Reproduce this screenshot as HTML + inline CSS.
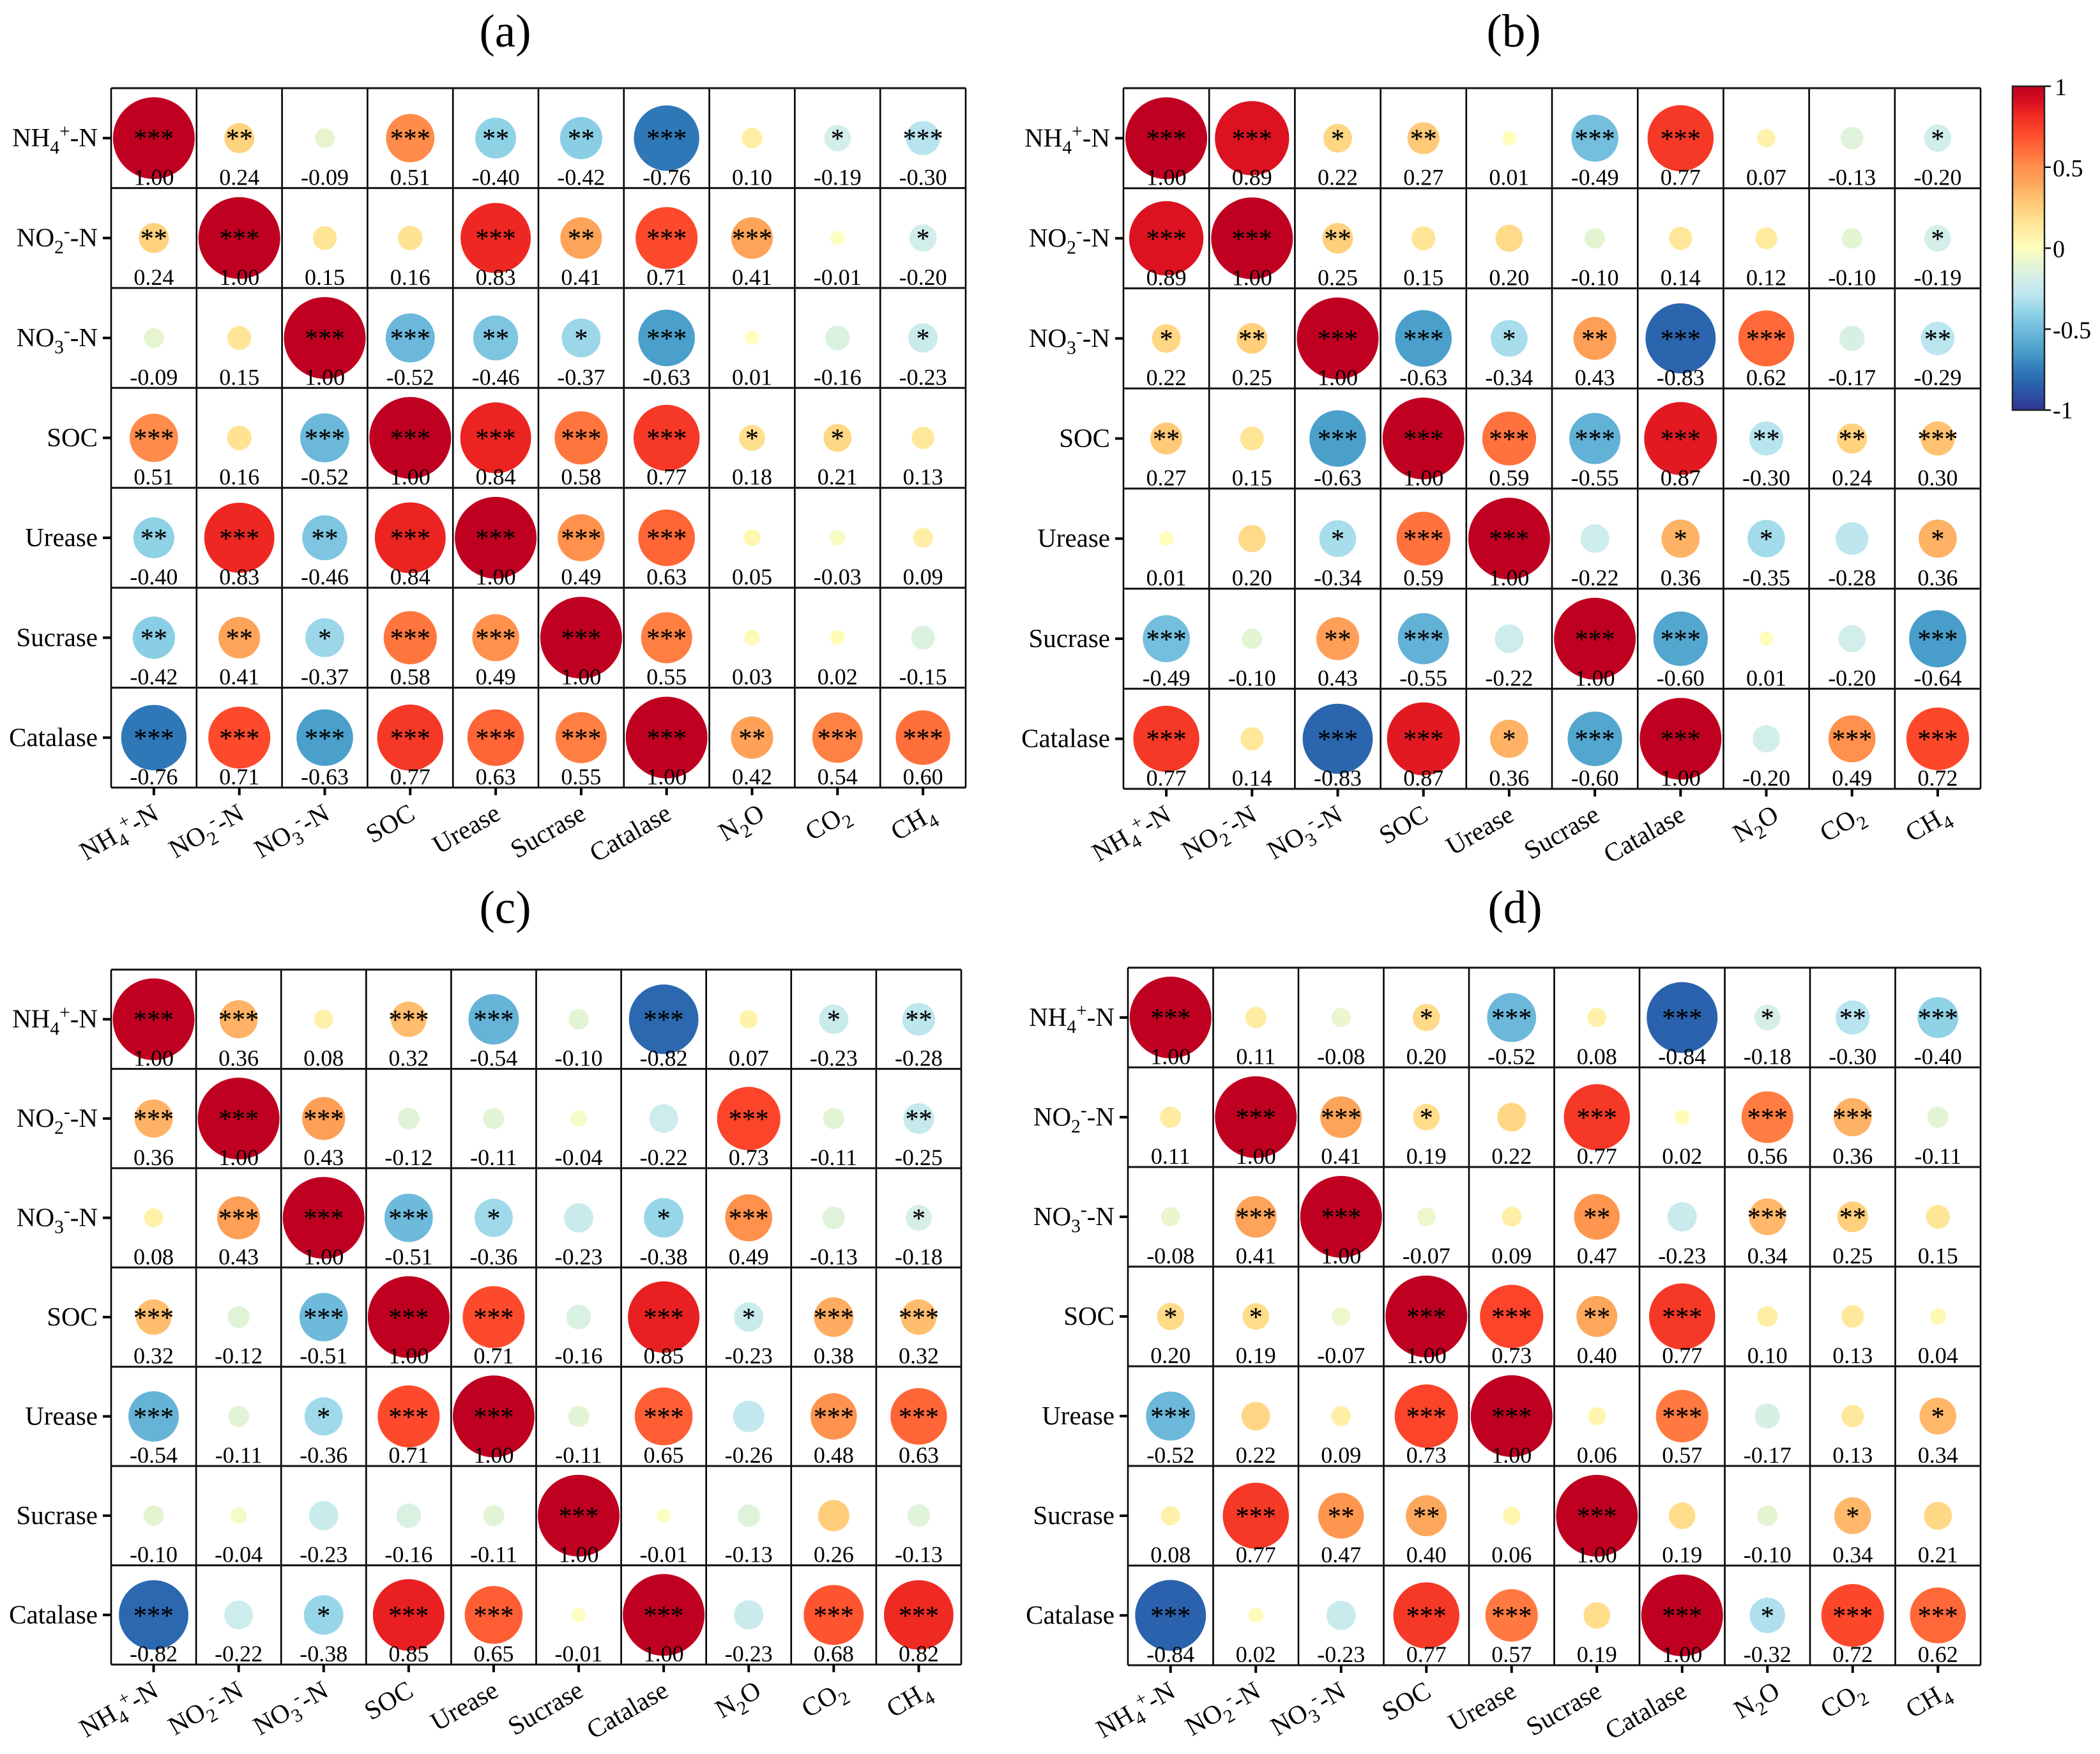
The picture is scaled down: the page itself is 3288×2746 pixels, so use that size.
<!DOCTYPE html>
<html lang="en">
<head>
<meta charset="utf-8">
<title>Correlation matrices (a)-(d)</title>
<style>
html,body{margin:0;padding:0;background:#fff;}
svg{display:block;font-family:"Liberation Serif","Times New Roman",serif;}
</style>
</head>
<body>
<svg id="chart" xmlns="http://www.w3.org/2000/svg" width="3288" height="2746" viewBox="0 0 3288 2746"></svg>
<script>
const rowLabels = ["NH_4^+-N","NO_2^--N","NO_3^--N","SOC","Urease","Sucrase","Catalase"];
const colLabels = ["NH_4^+-N","NO_2^--N","NO_3^--N","SOC","Urease","Sucrase","Catalase","N_2O","CO_2","CH_4"];
const colorbarTicks = [1,0.5,0,-0.5,-1];

const valuesA = [
[1.00,0.24,-0.09,0.51,-0.40,-0.42,-0.76,0.10,-0.19,-0.30],
[0.24,1.00,0.15,0.16,0.83,0.41,0.71,0.41,-0.01,-0.20],
[-0.09,0.15,1.00,-0.52,-0.46,-0.37,-0.63,0.01,-0.16,-0.23],
[0.51,0.16,-0.52,1.00,0.84,0.58,0.77,0.18,0.21,0.13],
[-0.40,0.83,-0.46,0.84,1.00,0.49,0.63,0.05,-0.03,0.09],
[-0.42,0.41,-0.37,0.58,0.49,1.00,0.55,0.03,0.02,-0.15],
[-0.76,0.71,-0.63,0.77,0.63,0.55,1.00,0.42,0.54,0.60]];
const starsA = [
[3,2,0,3,2,2,3,0,1,3],
[2,3,0,0,3,2,3,3,0,1],
[0,0,3,3,2,1,3,0,0,1],
[3,0,3,3,3,3,3,1,1,0],
[2,3,2,3,3,3,3,0,0,0],
[2,2,1,3,3,3,3,0,0,0],
[3,3,3,3,3,3,3,2,3,3]];

const valuesB = [
[1.00,0.89,0.22,0.27,0.01,-0.49,0.77,0.07,-0.13,-0.20],
[0.89,1.00,0.25,0.15,0.20,-0.10,0.14,0.12,-0.10,-0.19],
[0.22,0.25,1.00,-0.63,-0.34,0.43,-0.83,0.62,-0.17,-0.29],
[0.27,0.15,-0.63,1.00,0.59,-0.55,0.87,-0.30,0.24,0.30],
[0.01,0.20,-0.34,0.59,1.00,-0.22,0.36,-0.35,-0.28,0.36],
[-0.49,-0.10,0.43,-0.55,-0.22,1.00,-0.60,0.01,-0.20,-0.64],
[0.77,0.14,-0.83,0.87,0.36,-0.60,1.00,-0.20,0.49,0.72]];
const starsB = [
[3,3,1,2,0,3,3,0,0,1],
[3,3,2,0,0,0,0,0,0,1],
[1,2,3,3,1,2,3,3,0,2],
[2,0,3,3,3,3,3,2,2,3],
[0,0,1,3,3,0,1,1,0,1],
[3,0,2,3,0,3,3,0,0,3],
[3,0,3,3,1,3,3,0,3,3]];

const valuesC = [
[1.00,0.36,0.08,0.32,-0.54,-0.10,-0.82,0.07,-0.23,-0.28],
[0.36,1.00,0.43,-0.12,-0.11,-0.04,-0.22,0.73,-0.11,-0.25],
[0.08,0.43,1.00,-0.51,-0.36,-0.23,-0.38,0.49,-0.13,-0.18],
[0.32,-0.12,-0.51,1.00,0.71,-0.16,0.85,-0.23,0.38,0.32],
[-0.54,-0.11,-0.36,0.71,1.00,-0.11,0.65,-0.26,0.48,0.63],
[-0.10,-0.04,-0.23,-0.16,-0.11,1.00,-0.01,-0.13,0.26,-0.13],
[-0.82,-0.22,-0.38,0.85,0.65,-0.01,1.00,-0.23,0.68,0.82]];
const starsC = [
[3,3,0,3,3,0,3,0,1,2],
[3,3,3,0,0,0,0,3,0,2],
[0,3,3,3,1,0,1,3,0,1],
[3,0,3,3,3,0,3,1,3,3],
[3,0,1,3,3,0,3,0,3,3],
[0,0,0,0,0,3,0,0,0,0],
[3,0,1,3,3,0,3,0,3,3]];

const valuesD = [
[1.00,0.11,-0.08,0.20,-0.52,0.08,-0.84,-0.18,-0.30,-0.40],
[0.11,1.00,0.41,0.19,0.22,0.77,0.02,0.56,0.36,-0.11],
[-0.08,0.41,1.00,-0.07,0.09,0.47,-0.23,0.34,0.25,0.15],
[0.20,0.19,-0.07,1.00,0.73,0.40,0.77,0.10,0.13,0.04],
[-0.52,0.22,0.09,0.73,1.00,0.06,0.57,-0.17,0.13,0.34],
[0.08,0.77,0.47,0.40,0.06,1.00,0.19,-0.10,0.34,0.21],
[-0.84,0.02,-0.23,0.77,0.57,0.19,1.00,-0.32,0.72,0.62]];
const starsD = [
[3,0,0,1,3,0,3,1,2,3],
[0,3,3,1,0,3,0,3,3,0],
[0,3,3,0,0,2,0,3,2,0],
[1,1,0,3,3,2,3,0,0,0],
[3,0,0,3,3,0,3,0,0,1],
[0,3,2,2,0,3,0,0,1,0],
[3,0,0,3,3,0,3,1,3,3]];

const panelTitles = ["(a)","(b)","(c)","(d)"];
const panelValues = [valuesA,valuesB,valuesC,valuesD];
const panelStars = [starsA,starsB,starsC,starsD];

/* layout */
const frames = [
  {x0:174,x1:1512,y0:138,y1:1233,tx:791,ty:73},
  {x0:1759,x1:3101,y0:138,y1:1235,tx:2370,ty:73},
  {x0:174,x1:1505,y0:1518,y1:2606,tx:791,ty:1445},
  {x0:1766,x1:3101,y0:1515,y1:2607,tx:2372,ty:1445}
];
const colorStops = [
 [1,"#c00021"],[0.9,"#d90f20"],[0.83,"#ee2722"],[0.71,"#fe4a2c"],[0.63,"#ff6536"],[0.51,"#ff8c4a"],
 [0.41,"#fda45a"],[0.32,"#ffbd6e"],[0.24,"#ffd27e"],[0.15,"#ffe596"],[0,"#ffffbf"],[-0.09,"#e6f5d0"],[-0.2,"#d2eeeb"],
 [-0.3,"#b8e4ef"],[-0.4,"#8fd2e6"],[-0.52,"#6bb8da"],[-0.63,"#4aa0cb"],[-0.76,"#2f78b8"],[-0.84,"#2a62ad"],[-1,"#313695"]
];

const NS = "http://www.w3.org/2000/svg";
const svg = document.getElementById("chart");

function make(tag, parent, attrs, text){
  const e = document.createElementNS(NS, tag);
  for (const k in attrs) e.setAttribute(k, attrs[k]);
  if (text !== undefined) e.textContent = text;
  parent.appendChild(e);
  return e;
}
function hexToRgb(h){ return [1,3,5].map(i => parseInt(h.substr(i,2),16)); }
function colorScale(v){
  const c = Math.max(-1, Math.min(1, v));
  for (let i = 0; i < colorStops.length - 1; i++){
    const a = colorStops[i], b = colorStops[i+1];
    if (c <= a[0] && c >= b[0]){
      const t = (a[0] - c) / (a[0] - b[0]);
      const ra = hexToRgb(a[1]), rb = hexToRgb(b[1]);
      return "rgb(" + ra.map((q,j) => Math.round(q + (rb[j]-q)*t)).join(",") + ")";
    }
  }
  return "#ffffff";
}
function radiusScale(v){ return 10.7 + 53.3 * Math.abs(v); }
function labelParts(parent, label, size){
  const re = /_(.)|\^(.)|([^_^]+)/g;
  let m, shift = 0;
  while ((m = re.exec(label))){
    let txt, fs = size, dy = 0;
    if (m[1]){ txt = m[1]; fs = size*0.72; dy = size*0.27; }
    else if (m[2]){ txt = m[2]; fs = size*0.72; dy = -size*0.35; }
    else { txt = m[3]; }
    const want = dy - shift;
    make("tspan", parent, {"font-size":fs, dy:want}, txt);
    shift = dy;
  }
}

/* panels */
panelValues.forEach(function(values, p){
  const f = frames[p], stars = panelStars[p];
  const nCols = colLabels.length, nRows = rowLabels.length;
  const cw = (f.x1 - f.x0) / nCols, ch = (f.y1 - f.y0) / nRows;
  const xAt = c => f.x0 + cw * (c + 0.5);
  const yAt = r => f.y0 + ch * (r + 0.5);

  const g = make("g", svg, {});
  
  

  const title = make("text", g, {x:f.tx, y:f.ty, "text-anchor":"middle", "font-size":73, fill:"#000"}, panelTitles[p]);
  
  

  values.forEach(function(row, r){
    row.forEach(function(v, c){
      const cell = make("ellipse", g, {cx:xAt(c), cy:yAt(r), rx:radiusScale(v), ry:radiusScale(v), fill:colorScale(v)});
      
      
    });
  });

  for (let i = 0; i <= nCols; i++){
    const x = f.x0 + cw * i;
    const l = make("line", g, {x1:x, x2:x, y1:f.y0, y2:f.y1, stroke:"#000", "stroke-width":2.6});
    
    
  }
  for (let i = 0; i <= nRows; i++){
    const y = f.y0 + ch * i;
    const l = make("line", g, {x1:f.x0, x2:f.x1, y1:y, y2:y, stroke:"#111", "stroke-width":3});
    
    
  }

  values.forEach(function(row, r){
    row.forEach(function(v, c){
      if (stars[r][c] > 0){
        const s = make("text", g, {x:xAt(c), y:yAt(r)+15, "text-anchor":"middle", "font-size":42, fill:"#000", stroke:"#000", "stroke-width":0.2}, "*".repeat(stars[r][c]));
        
        
      }
      const t = make("text", g, {x:xAt(c), y:f.y0 + ch*(r+1) - 5, "text-anchor":"middle", "font-size":36, fill:"#000"}, v.toFixed(2));
      
      
    });
  });

  rowLabels.forEach(function(lab, r){
    const tick = make("line", g, {x1:f.x0-13, x2:f.x0, y1:yAt(r), y2:yAt(r), stroke:"#000", "stroke-width":4});
    
    
    const t = make("text", g, {x:f.x0-21, y:yAt(r)+13, "text-anchor":"end", "font-size":41, fill:"#000"});
    labelParts(t, lab, 41);
    
    
  });

  colLabels.forEach(function(lab, c){
    const tick = make("line", g, {x1:xAt(c), x2:xAt(c), y1:f.y1, y2:f.y1+12, stroke:"#000", "stroke-width":4});
    
    
    const extra = c >= 7 ? 12 : 0;
    const t = make("text", g, {transform:"translate(" + (xAt(c)+10+extra) + "," + (f.y1+48) + ") rotate(-30)", "text-anchor":"end", "font-size":41, fill:"#000"});
    labelParts(t, lab, 41);
    
    
  });
});

/* colorbar */
const barX = 3151, barW = 50, barTop = 135, barBottom = 642;
const barY = v => barTop + (1 - v) / 2 * (barBottom - barTop);
const cb = make("g", svg, {});


const defs = make("defs", cb, {});
const grad = make("linearGradient", defs, {id:"cbGrad", x1:0, y1:0, x2:0, y2:1});
colorStops.forEach(function(s){
  make("stop", grad, {offset:(1 - s[0]) / 2, "stop-color":s[1]});
});
const bar = make("rect", cb, {x:barX, y:barTop, width:barW, height:barBottom-barTop, fill:"url(#cbGrad)", stroke:"#222", "stroke-width":2.5});


colorbarTicks.forEach(function(v){
  const tick = make("line", cb, {x1:barX+barW, x2:barX+barW+10, y1:barY(v), y2:barY(v), stroke:"#111", "stroke-width":2.5});
  
  
  const t = make("text", cb, {x:barX+barW+(v===1?16:13), y:barY(v)+(v===1?14:v===-1?13:14), "font-size":38, fill:"#000"}, String(v));
  
  
});
</script>
</body>
</html>
